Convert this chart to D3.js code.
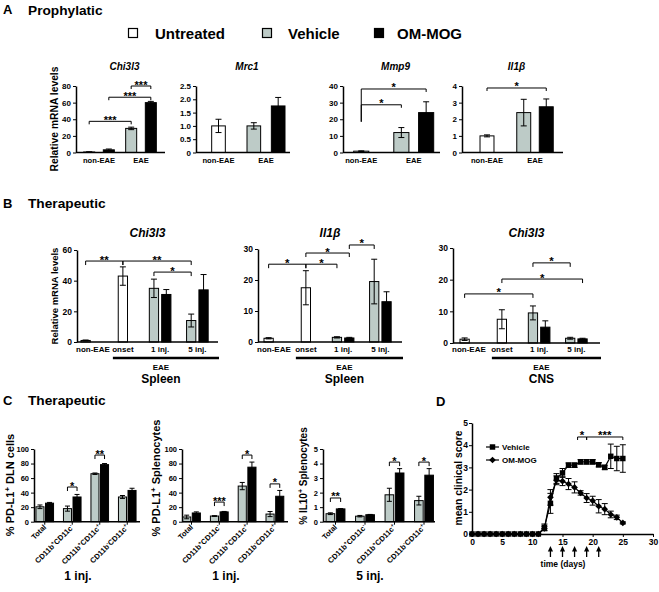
<!DOCTYPE html>
<html><head><meta charset="utf-8">
<script src="https://d3js.org/d3.v7.min.js"></script>
<style>
html,body{margin:0;padding:0;background:#fff;}
svg{display:block;}
text{font-family:"Liberation Sans",Arial,Helvetica,sans-serif;font-weight:bold;fill:#000;}
</style></head><body>
<svg id="chart" width="659" height="592" viewBox="0 0 659 592"></svg>
<script>
// ================= DATA =================
const SERIES = ["Untreated","Vehicle","OM-MOG"];

// ---- Panel A (Prophylatic): rows = [group, series, mean, error]
const A_GROUPS = ["non-EAE","EAE"];
const A_TITLES = ["Chi3l3","Mrc1","Mmp9","Il1β"];
const A_CHI3L3 = [["non-EAE","Untreated",0.6,0.2],["non-EAE","OM-MOG",3.2,1.0],["EAE","Vehicle",29,1.5],["EAE","OM-MOG",60,1.5]];
const A_MRC1   = [["non-EAE","Untreated",1.0,0.25],["EAE","Vehicle",1.0,0.12],["EAE","OM-MOG",1.75,0.32]];
const A_MMP9   = [["non-EAE","Untreated",0.8,0.2],["EAE","Vehicle",12,3],["EAE","OM-MOG",24,6.5]];
const A_IL1B   = [["non-EAE","Untreated",1.0,0.06],["EAE","Vehicle",2.4,0.8],["EAE","OM-MOG",2.75,0.47]];
const A_TICKS  = [[0,20,40,60,80],[0,0.5,1,1.5,2,2.5],[0,10,20,30,40],[0,1,2,3,4]];
// significance rows = [group1, series1, group2, series2, level, label, optional left-leg bottom]
const A_CHI3L3_SIG = [["non-EAE","Untreated","EAE","Vehicle",37.5,"***"],["non-EAE","OM-MOG","EAE","OM-MOG",66.5,"***"],["EAE","Vehicle","EAE","OM-MOG",80,"***"]];
const A_MMP9_SIG   = [["non-EAE","Untreated","EAE","Vehicle",28.7,"*",18.5],["non-EAE","Untreated","EAE","OM-MOG",38.2,"*",18.5]];
const A_IL1B_SIG   = [["non-EAE","Untreated","EAE","OM-MOG",3.88,"*"]];

// ---- Panel B (Therapeutic)
const B_GROUPS = ["non-EAE","onset","1 inj.","5 inj."];
const B_TITLES = ["Chi3l3","Il1β","Chi3l3"];
const B_TISSUES = ["Spleen","Spleen","CNS"];
const B_SPLEEN_CHI3L3 = [["non-EAE","Untreated",1,0.3],["onset","Untreated",43,6],["1 inj.","Vehicle",35,6],["1 inj.","OM-MOG",31,3.2],["5 inj.","Vehicle",14,4.2],["5 inj.","OM-MOG",34,10]];
const B_SPLEEN_IL1B   = [["non-EAE","Untreated",1.2,0.2],["onset","Untreated",17.5,5.5],["1 inj.","Vehicle",1.5,0.2],["1 inj.","OM-MOG",1.3,0.2],["5 inj.","Vehicle",19.5,7.2],["5 inj.","OM-MOG",13,3.2]];
const B_CNS_CHI3L3    = [["non-EAE","Untreated",1.2,0.4],["onset","Untreated",7.5,3],["1 inj.","Vehicle",9.5,2.2],["1 inj.","OM-MOG",5,2],["5 inj.","Vehicle",1.5,0.3],["5 inj.","OM-MOG",1.3,0.2]];
const B_TICKS = [[0,20,40,60],[0,10,20,30],[0,10,20,30]];
const B_SPLEEN_CHI3L3_SIG = [["non-EAE","Untreated","onset","Untreated",52.8,"**"],["onset","Untreated","5 inj.","Vehicle",52.8,"**"],["1 inj.","Vehicle","5 inj.","Vehicle",45.6,"*"]];
const B_SPLEEN_IL1B_SIG   = [["non-EAE","Untreated","onset","Untreated",25.1,"*"],["onset","Untreated","1 inj.","Vehicle",25.1,"*"],["onset","Untreated","1 inj.","OM-MOG",28.7,"*"],["1 inj.","OM-MOG","5 inj.","Vehicle",31.3,"*"]];
const B_CNS_CHI3L3_SIG    = [["non-EAE","Untreated","1 inj.","Vehicle",15.5,"*"],["onset","Untreated","5 inj.","OM-MOG",20.2,"*"],["1 inj.","Vehicle","5 inj.","Vehicle",25.3,"*"]];

// ---- Panel C (Therapeutic, cell subsets): Vehicle vs OM-MOG
const C_GROUPS = ["Total","CD11b⁺CD11c⁻","CD11b⁺CD11c⁺","CD11b⁻CD11c⁺"];
const C_YLABELS = ["% PD-L1⁺ DLN cells","% PD-L1⁺ Splenocytes","% IL10⁺ Splenocytes"];
const C_XLABELS = ["1 inj.","1 inj.","5 inj."];
const C_DLN_VEH = [20.5,18,66,34],     C_DLN_VEH_ERR = [2.5,3.5,1,2];
const C_DLN_OM  = [25.5,34,78.5,43],   C_DLN_OM_ERR  = [1,3.5,1.5,3];
const C_SPL_VEH = [6.5,7.8,49,10.5],   C_SPL_VEH_ERR = [2.5,0.5,5,3.5];
const C_SPL_OM  = [12,13.5,75,35],     C_SPL_OM_ERR  = [1.5,0.6,7,8];
const C_IL10_VEH = [0.55,0.38,1.85,1.45], C_IL10_VEH_ERR = [0.06,0.05,0.45,0.3];
const C_IL10_OM  = [0.88,0.48,3.35,3.2],  C_IL10_OM_ERR  = [0.02,0.02,0.3,0.45];
const C_TICKS = [[0,20,40,60,80,100],[0,20,40,60,80,100],[0,1,2,3,4,5]];
// [group index, level, label]
const C_DLN_SIG  = [[1,47.7,"*"],[2,91.7,"**"]];
const C_SPL_SIG  = [[1,27,"***"],[2,91.7,"*"],[3,52,"*"]];
const C_IL10_SIG = [[0,1.63,"**"],[2,4.1,"*"],[3,4.1,"*"]];

// ---- Panel D (clinical score)
const D_DAYS    = [0,1,2,3,4,5,6,7,8,9,10,11,12,13,14,15,16,17,18,19,20,21,22,23,24,25];
const D_VEH     = [0,0,0,0,0,0,0,0,0,0,0,0,0.3,1.38,2.5,2.75,3.1,3.1,3.25,3.25,3.25,3.12,3.0,3.5,3.4,3.4];
const D_VEH_ERR = [0,0,0,0,0,0,0,0,0,0,0,0,0.15,0.45,0.22,0.2,0.1,0.1,0.1,0.1,0.1,0.1,0.1,0.55,0.55,0.62];
const D_OM      = [0,0,0,0,0,0,0,0,0,0,0,0,0.25,1.65,2.42,2.38,2.25,2.1,1.85,1.62,1.5,1.25,1.12,0.88,0.75,0.5];
const D_OM_ERR  = [0,0,0,0,0,0,0,0,0,0,0,0,0.1,0.35,0.2,0.2,0.25,0.25,0.1,0.2,0.2,0.3,0.25,0.15,0.1,0.05];
const D_XTICKS = [0,5,10,15,20,25,30];
const D_YTICKS = [0,1,2,3,4,5];
const D_ARROWS = [13,15,17,19,21];
const D_SIG = [[17.5,19,4.37,"*"],[19,25,4.37,"***"]];

// ================= DRAWING =================
const svg = d3.select("#chart");
const FILL = {"Untreated":"#ffffff","Vehicle":"#bdcbc7","OM-MOG":"#000000"};

function richText(t, s, size){
  const parts = s.split(/([⁺⁻])/).filter(p=>p!=="");
  let up = false;
  parts.forEach(p=>{
    if (p==="⁺"||p==="⁻"){
      t.append("tspan").attr("font-size",size*0.7).attr("dy",up?0:-size*0.38).text(p==="⁺"?"+":"-");
      up = true;
    } else {
      const ts = t.append("tspan").text(p);
      if (up){ ts.attr("dy",size*0.38); up=false; }
    }
  });
}
function addText(g, x, y, s, size, anchor="start", extra={}){
  const t = g.append("text").attr("x",x).attr("y",y).attr("font-size",size).attr("text-anchor",anchor);
  if (extra.italic) t.attr("font-style","italic");
  if (extra.rotate!=null) t.attr("transform",`rotate(${extra.rotate},${x},${y})`);
  richText(t, s, size);
  return t;
}
function styleAxis(a, fs){
  a.select(".domain").attr("stroke-width",1.5);
  a.selectAll(".tick line").attr("stroke-width",1);
  a.selectAll("text").attr("font-size",fs);
}

function barPanel(cfg){
  const g = svg.append("g");
  const y = d3.scaleLinear().domain(cfg.dom).range(cfg.yr);
  const x = d3.scaleBand().domain(cfg.groups).range(cfg.band);
  const step = x.bandwidth();
  const slot = d3.scaleBand().domain([0,1]).range([-step*cfg.inner/2, step*cfg.inner/2]).paddingInner(cfg.pi);
  const bw = slot.bandwidth();
  const byG = d3.group(cfg.data, d=>d[0]);
  const pos = new Map();
  cfg.groups.forEach(gn=>{
    const items = byG.get(gn)||[];
    items.forEach((d,i)=>pos.set(gn+"|"+d[1], x(gn)+step/2 + (items.length===1?0:slot(i)+bw/2)));
  });
  const cx = d=>pos.get(d[0]+"|"+d[1]);
  g.selectAll(".bar").data(cfg.data).join("rect").attr("class","bar")
    .attr("x",d=>cx(d)-bw/2).attr("y",d=>y(d[2])).attr("width",bw).attr("height",d=>y(0)-y(d[2]))
    .attr("fill",d=>FILL[d[1]]).attr("stroke","#000").attr("stroke-width",1);
  const cap = cfg.cap||3;
  const lo = d=>y(Math.max(0,d[2]-d[3])), hi = d=>y(d[2]+d[3]);
  const eb = g.selectAll(".err").data(cfg.data.filter(d=>d[3]>0)).join("g").attr("class","err")
    .attr("stroke","#000").attr("stroke-width",1);
  eb.append("line").attr("x1",cx).attr("x2",cx).attr("y1",lo).attr("y2",hi);
  eb.append("line").attr("x1",d=>cx(d)-cap).attr("x2",d=>cx(d)+cap).attr("y1",hi).attr("y2",hi);
  eb.append("line").attr("x1",d=>cx(d)-cap).attr("x2",d=>cx(d)+cap).attr("y1",lo).attr("y2",lo);

  const ya = g.append("g").attr("transform",`translate(${cfg.ax[0]},0)`)
    .call(d3.axisLeft(y).tickValues(cfg.ticks).tickFormat(cfg.fmt||(d=>d)).tickSize(3).tickSizeOuter(0).tickPadding(2));
  styleAxis(ya, cfg.tickFont||8);
  g.append("line").attr("x1",cfg.ax[0]).attr("x2",cfg.ax[1]).attr("y1",y(0)).attr("y2",y(0))
    .attr("stroke","#000").attr("stroke-width",1.5);

  const leg = cfg.leg||4;
  (cfg.sig||[]).forEach(s=>{
    const xa = pos.get(s[0]+"|"+s[1]), xb = pos.get(s[2]+"|"+s[3]);
    const yy = y(s[4]);
    const yl = s[6]!=null ? y(s[6]) : yy+leg;
    g.append("path").attr("d",`M${xa},${yl}V${yy}H${xb}V${yy+leg}`)
      .attr("fill","none").attr("stroke","#000").attr("stroke-width",1);
    g.append("text").attr("x",(xa+xb)/2).attr("y",yy+2.5).attr("text-anchor","middle")
      .attr("font-size",cfg.starSize||11).text(s[5]);
  });

  if (cfg.title) addText(g,(cfg.ax[0]+cfg.ax[1])/2+(cfg.titleDx||0),cfg.titleY,cfg.title,cfg.titleSize,"middle",{italic:true});
  if (cfg.labelY) cfg.groups.forEach(gn=>{
    const c = x(gn)+step/2;
    const t = addText(g,c,cfg.labelY,gn,cfg.labelSize,"middle");
    const w = t.node().getComputedTextLength();
    if (c-w/2 < cfg.ax[0]-1) t.attr("x",cfg.ax[0]-1+w/2);
  });
  return {g,x,y,pos,step,bw};
}

// ---------- Panel A ----------
const gA = svg.append("g");
addText(gA,3,13.5,"A",13);
addText(gA,28,15,"Prophylatic",13.7);
const legX = [[133,155],[267,288],[379,397]];
SERIES.forEach((s,i)=>{
  gA.append("rect").attr("x",legX[i][0]-4.5).attr("y",28.5).attr("width",9).attr("height",9)
    .attr("fill",FILL[s]).attr("stroke","#000").attr("stroke-width",1.2);
  addText(gA,legX[i][1],38.5,s,15);
});
const fmtA = d=>d===0?"0":d3.format(".1f")(d);
const aCfg = [
  {data:A_CHI3L3,band:[78,162],ax:[76,165],dom:[0,80],inner:0.73,pi:0.44,sig:A_CHI3L3_SIG},
  {data:A_MRC1,band:[194.75,289.75],ax:[196,290],dom:[0,2.5],inner:0.8,pi:0.44,fmt:fmtA},
  {data:A_MMP9,band:[335,440],ax:[343,440],dom:[0,40],inner:0.76,pi:0.39,sig:A_MMP9_SIG},
  {data:A_IL1B,band:[463,559],ax:[462,563],dom:[0,4],inner:0.76,pi:0.38,sig:A_IL1B_SIG}
];
aCfg.forEach((c,i)=>barPanel(Object.assign({groups:A_GROUPS,yr:[152.5,86],ticks:A_TICKS[i],
  cap:3,title:A_TITLES[i],titleY:70,titleSize:10,titleDx:4,labelY:163,labelSize:7.6,leg:3,starSize:11},c)));
addText(gA,58,119,"Relative mRNA levels",10.3,"middle",{rotate:-90});

// ---------- Panel B ----------
const gB = svg.append("g");
addText(gB,3,208,"B",13);
addText(gB,28,208,"Therapeutic",13.7);
const bCfg = [
  {data:B_SPLEEN_CHI3L3,band:[67,216],ax:[77,218],dom:[0,60],yr:[342,250],sig:B_SPLEEN_CHI3L3_SIG},
  {data:B_SPLEEN_IL1B,band:[250,399],ax:[258,402],dom:[0,30],yr:[342,249],sig:B_SPLEEN_IL1B_SIG},
  {data:B_CNS_CHI3L3,band:[446,595],ax:[453,600],dom:[0,30],yr:[343,248],sig:B_CNS_CHI3L3_SIG}
];
bCfg.forEach((c,i)=>{
  const p = barPanel(Object.assign({groups:B_GROUPS,ticks:B_TICKS[i],inner:0.58,pi:0.25,cap:3,
    title:B_TITLES[i],titleY:237,titleSize:12,labelY:352,labelSize:8,leg:4,starSize:11.5,tickFont:8.5},c));
  const x0 = p.x("onset")+p.step/2-10, x1 = c.ax[1]+1;
  p.g.append("line").attr("x1",x0).attr("x2",x1).attr("y1",358).attr("y2",358).attr("stroke","#000").attr("stroke-width",2.6);
  const mid = (x0+x1)/2-5;
  addText(p.g,mid,370,"EAE",8,"middle");
  addText(p.g,mid,383,B_TISSUES[i],12,"middle");
});
addText(gB,58,296,"Relative mRNA levels",9.5,"middle",{rotate:-90});

// ---------- Panel C ----------
const gC = svg.append("g");
addText(gC,3,405,"C",13);
addText(gC,28,405,"Therapeutic",13.7);
function cRows(veh,vehE,om,omE){
  const rows=[];
  C_GROUPS.forEach((g,i)=>{rows.push([g,"Vehicle",veh[i],vehE[i]]);rows.push([g,"OM-MOG",om[i],omE[i]]);});
  return rows;
}
function cSig(sig){ return sig.map(s=>[C_GROUPS[s[0]],"Vehicle",C_GROUPS[s[0]],"OM-MOG",s[1],s[2]]); }
const cCfg = [
  {data:cRows(C_DLN_VEH,C_DLN_VEH_ERR,C_DLN_OM,C_DLN_OM_ERR),band:[31,141],ax:[34,140],dom:[0,100],sig:cSig(C_DLN_SIG),ylx:14,yly:485},
  {data:cRows(C_SPL_VEH,C_SPL_VEH_ERR,C_SPL_OM,C_SPL_OM_ERR),band:[177.6,288.8],ax:[182,288],dom:[0,100],sig:cSig(C_SPL_SIG),ylx:160,yly:478},
  {data:cRows(C_IL10_VEH,C_IL10_VEH_ERR,C_IL10_OM,C_IL10_OM_ERR),band:[320.75,438.75],ax:[323,435],dom:[0,5],sig:cSig(C_IL10_SIG),ylx:307,yly:476}
];
cCfg.forEach((c,i)=>{
  const p = barPanel(Object.assign({groups:C_GROUPS,ticks:C_TICKS[i],yr:[521.7,449],inner:0.64,pi:0.16,cap:2.5,
    leg:4,starSize:11,tickFont:7.5},c));
  const y0 = p.y(0);
  C_GROUPS.forEach(gn=>{
    const cx = p.x(gn)+p.step/2;
    p.g.append("line").attr("x1",cx).attr("x2",cx).attr("y1",y0).attr("y2",y0+3).attr("stroke","#000");
    const t = p.g.append("text").attr("transform",`translate(${cx+2},${y0+6}) rotate(-45)`)
      .attr("text-anchor","end").attr("font-size",7.5);
    richText(t,gn,7.5);
  });
  addText(p.g,(c.ax[0]+c.ax[1])/2-9,580,C_XLABELS[i],12,"middle");
  addText(p.g,c.ylx,c.yly,C_YLABELS[i],i===2?10:11,"middle",{rotate:-90});
});

// ---------- Panel D ----------
const gD = svg.append("g");
addText(gD,436,406,"D",13);
const xD = d3.scaleLinear().domain([0,30]).range([472,653]);
const yD = d3.scaleLinear().domain([0,5]).range([534,423]);
const axY = gD.append("g").attr("transform","translate(472,0)")
  .call(d3.axisLeft(yD).tickValues(D_YTICKS).tickFormat(d=>d).tickSize(3).tickSizeOuter(0).tickPadding(1));
styleAxis(axY,8.5);
const axX = gD.append("g").attr("transform","translate(0,534)")
  .call(d3.axisBottom(xD).tickValues(D_XTICKS).tickFormat(d=>d).tickSize(3).tickSizeOuter(0).tickPadding(2));
styleAxis(axX,8.5);
addText(gD,462,478,"mean clinical score",10.3,"middle",{rotate:-90});
addText(gD,563,567,"time (days)",8.5,"middle");
D_ARROWS.forEach(d=>{
  const ax = xD(d);
  gD.append("line").attr("x1",ax).attr("x2",ax).attr("y1",557).attr("y2",550).attr("stroke","#000").attr("stroke-width",1.3);
  gD.append("path").attr("d",`M${ax},546L${ax-2.6},551.5L${ax+2.6},551.5Z`).attr("fill","#000");
});
const series = [
  {name:"Vehicle",v:D_VEH,e:D_VEH_ERR,sym:d3.symbol(d3.symbolSquare,30),rot:0},
  {name:"OM-MOG",v:D_OM,e:D_OM_ERR,sym:d3.symbol(d3.symbolSquare,22),rot:45}
];
series.forEach(s=>{
  const pts = D_DAYS.map((d,i)=>({d,v:s.v[i],e:s.e[i]}));
  gD.append("path").datum(pts).attr("fill","none").attr("stroke","#000").attr("stroke-width",1.2)
    .attr("d",d3.line().x(p=>xD(p.d)).y(p=>yD(p.v)));
  const eg = gD.append("g").attr("stroke","#000").attr("stroke-width",1);
  pts.filter(p=>p.e>0).forEach(p=>{
    const X=xD(p.d), a=yD(p.v-p.e), b=yD(p.v+p.e);
    eg.append("line").attr("x1",X).attr("x2",X).attr("y1",a).attr("y2",b);
    eg.append("line").attr("x1",X-3).attr("x2",X+3).attr("y1",a).attr("y2",a);
    eg.append("line").attr("x1",X-3).attr("x2",X+3).attr("y1",b).attr("y2",b);
  });
  gD.append("g").selectAll("path").data(pts).join("path").attr("d",s.sym)
    .attr("transform",p=>`translate(${xD(p.d)},${yD(p.v)}) rotate(${s.rot})`).attr("fill","#000");
});
series.forEach((s,i)=>{
  const ly = 447+i*13;
  gD.append("line").attr("x1",486).attr("x2",499).attr("y1",ly).attr("y2",ly).attr("stroke","#000").attr("stroke-width",1.2);
  gD.append("path").attr("d",s.sym).attr("transform",`translate(492.5,${ly}) rotate(${s.rot})`).attr("fill","#000");
  addText(gD,502,ly+3,s.name,8);
});
D_SIG.forEach(s=>{
  const xa=xD(s[0]), xb=xD(s[1]), yy=yD(s[2]);
  gD.append("path").attr("d",`M${xa},${yy+3}V${yy}H${xb}V${yy+3}`).attr("fill","none").attr("stroke","#000").attr("stroke-width",1);
  gD.append("text").attr("x",(xa+xb)/2).attr("y",yy+2.5).attr("text-anchor","middle").attr("font-size",11.5).text(s[3]);
});
</script>
</body></html>
